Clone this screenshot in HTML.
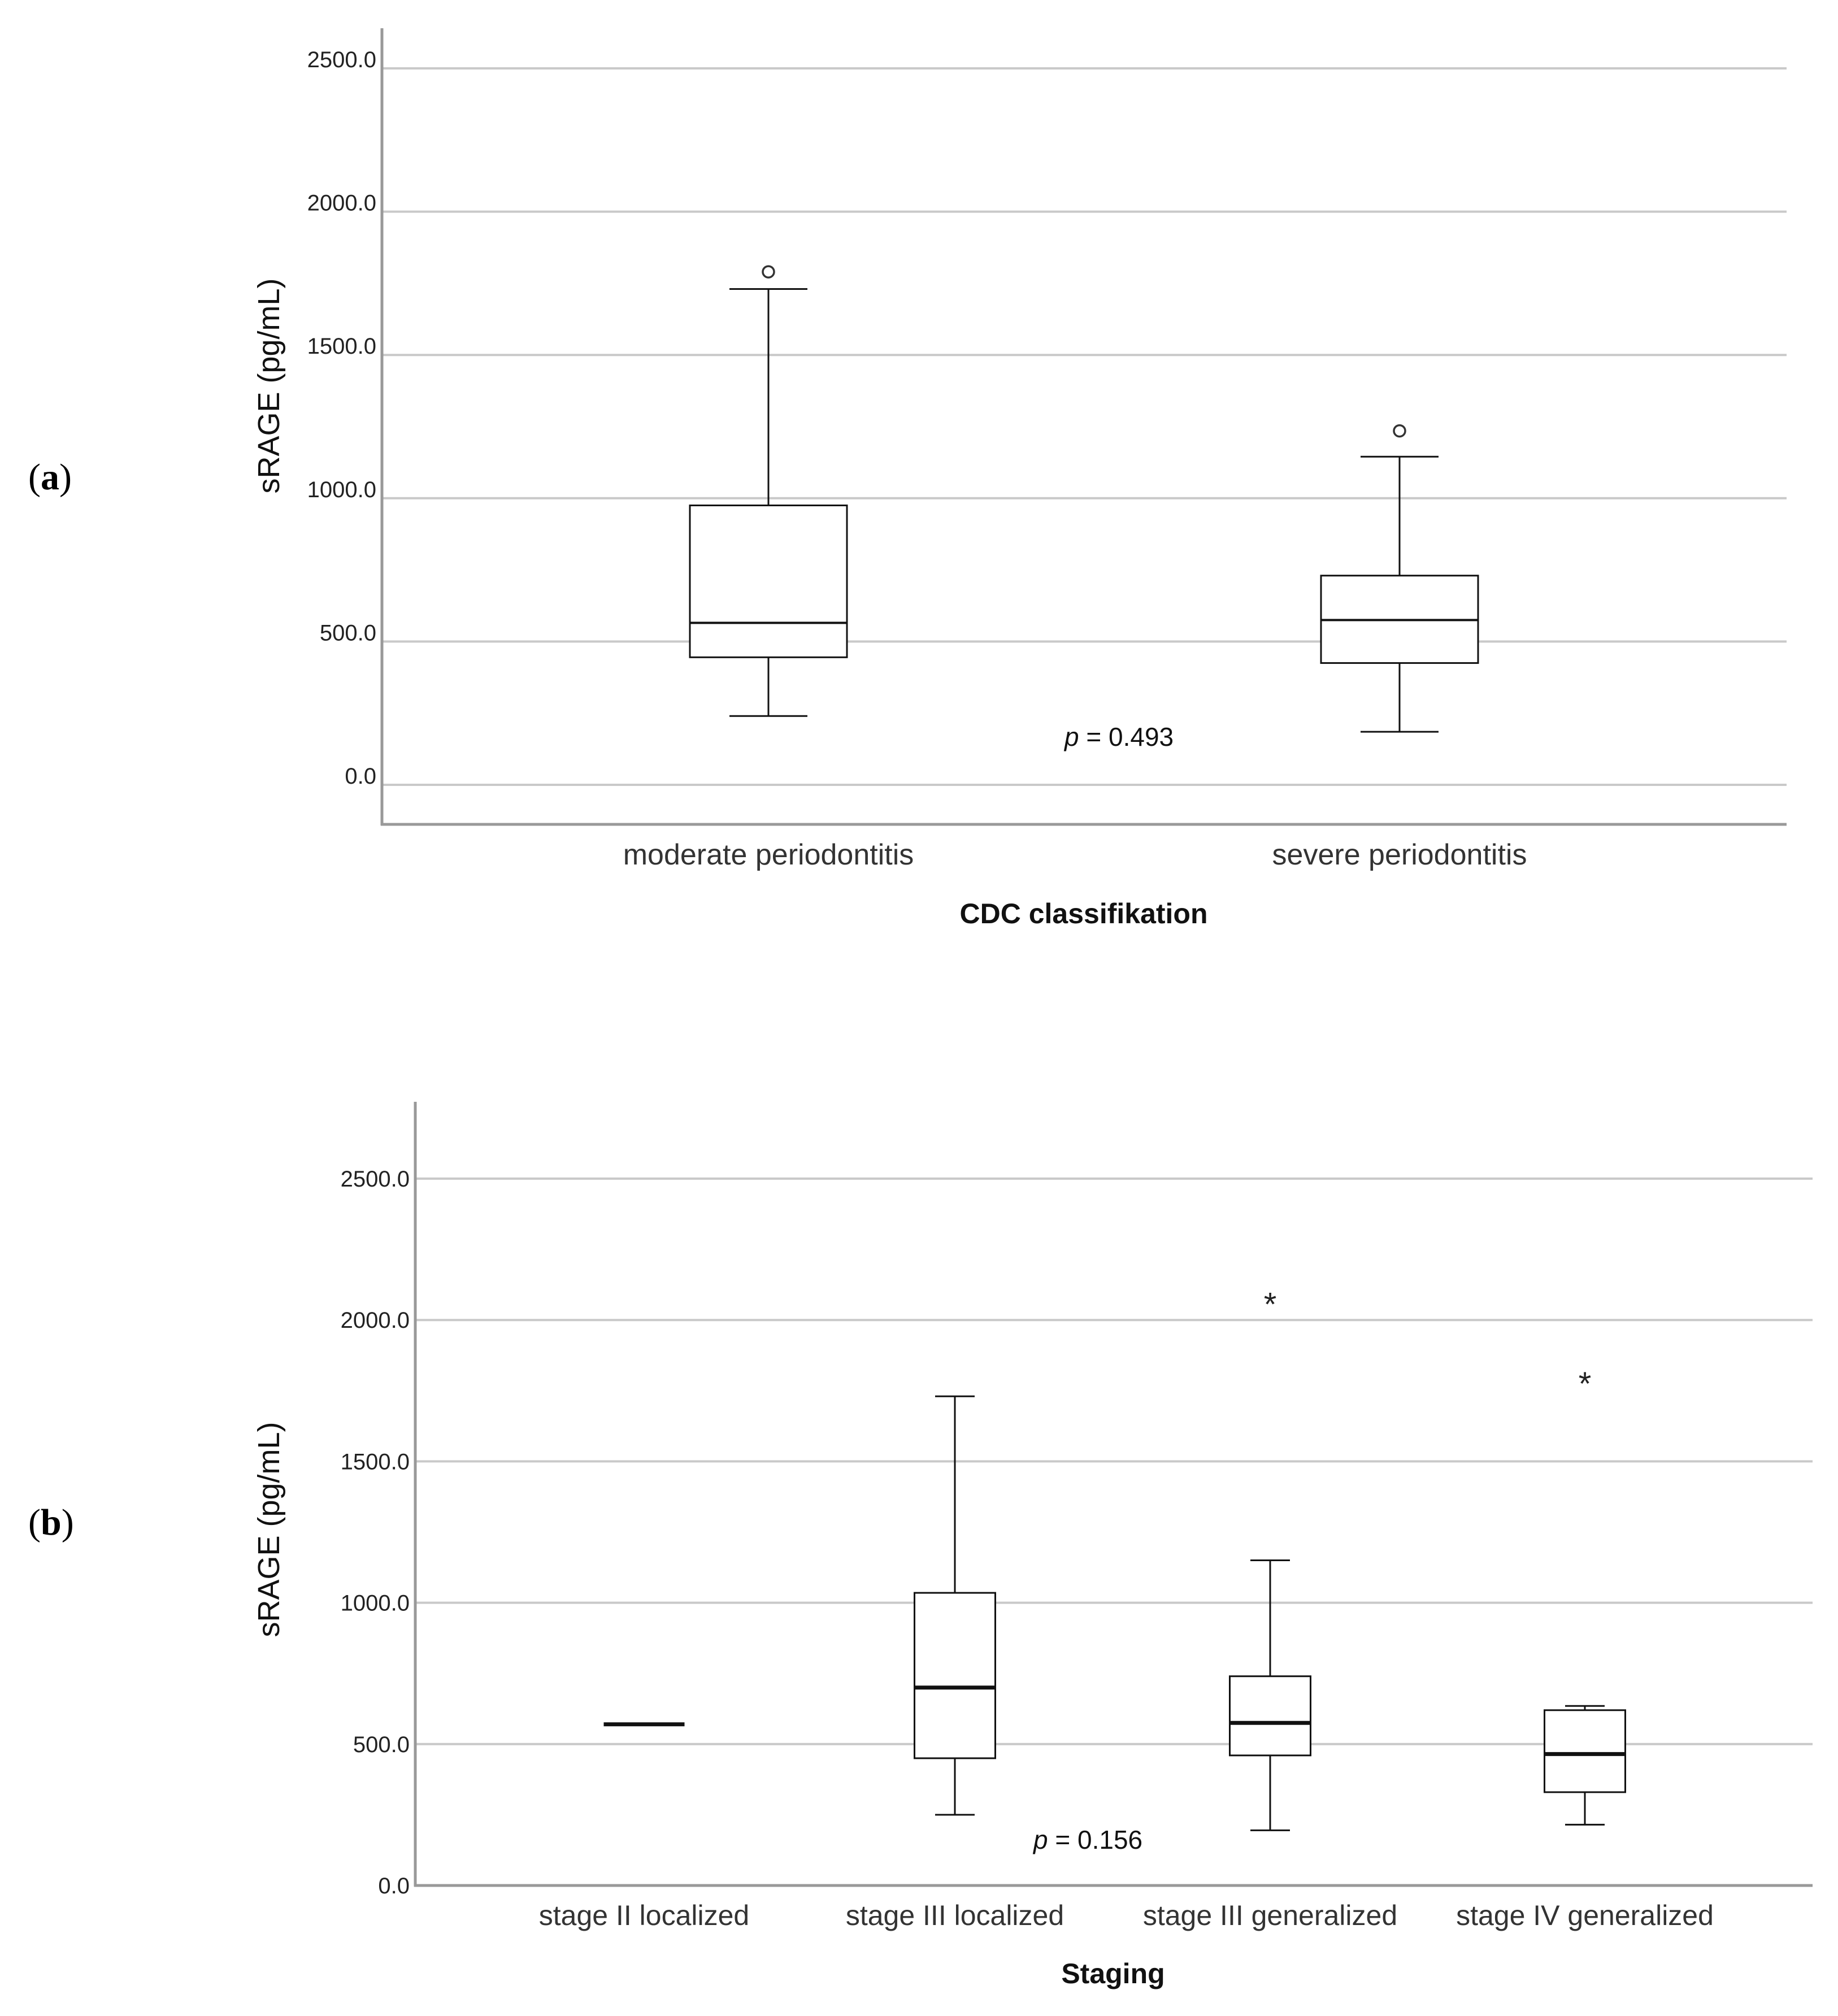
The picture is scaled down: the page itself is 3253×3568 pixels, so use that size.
<!DOCTYPE html>
<html><head><meta charset="utf-8"><style>
html,body{margin:0;padding:0;background:#fff;}
svg{display:block;font-family:"Liberation Sans",sans-serif;}
</style></head><body>
<svg id="fig" width="3253" height="3568" viewBox="0 0 3253 3568" xmlns="http://www.w3.org/2000/svg">
<text x="50" y="866" font-family="Liberation Serif, serif" font-size="66">(<tspan font-weight="bold">a</tspan>)</text>
<text x="50" y="2716" font-family="Liberation Serif, serif" font-size="66">(<tspan font-weight="bold">b</tspan>)</text>
<g id="chartA"></g>
<g id="chartB"></g>
</svg>
<script>
const ticks = [0, 500, 1000, 1500, 2000, 2500];
const tickLabels = ["0.0", "500.0", "1000.0", "1500.0", "2000.0", "2500.0"];
const catsA = ["moderate periodontitis", "severe periodontitis"];
const q1A = [445, 425];
const medA = [565, 575];
const q3A = [975, 730];
const loA = [240, 185];
const hiA = [1730, 1145];
const outA = [1790, 1235];
const catsB = ["stage II localized", "stage III  localized", "stage III generalized", "stage IV generalized"];
const q1B = [570, 450, 460, 330];
const medB = [570, 700, 575, 465];
const q3B = [570, 1035, 740, 620];
const loB = [570, 250, 195, 215];
const hiB = [570, 1730, 1150, 635];
const extB = [null, null, 2075, 1795];

const NS = "http://www.w3.org/2000/svg";
function mk(parent, tag, attrs, text) {
  const e = document.createElementNS(NS, tag);
  for (const k in attrs) e.setAttribute(k, attrs[k]);
  if (text !== undefined) e.textContent = text;
  parent.appendChild(e);
  return e;
}

function drawChart(g, cfg) {
  const y = v => cfg.y0 - (v / 500) * cfg.step;
  const x = i => cfg.xs[i];
  ticks.forEach((t, i) => {
    const l = mk(g, "line", {x1: cfg.ax, x2: cfg.right, y1: y(t), y2: y(t), stroke: "#c9c9c9", "stroke-width": 4});
    
    
    const tl = mk(g, "text", {x: cfg.ax - 10, y: y(t) + cfg.tickDy, "text-anchor": "end", "font-size": 40, fill: "#222"}, tickLabels[i]);
    
    
  });
  const ya = mk(g, "line", {x1: cfg.ax, x2: cfg.ax, y1: cfg.top, y2: cfg.bottom + 2, stroke: "#999", "stroke-width": 5});
  
  
  const xa = mk(g, "line", {x1: cfg.ax - 2, x2: cfg.right, y1: cfg.bottom, y2: cfg.bottom, stroke: "#999", "stroke-width": 5});
  
  
  cfg.cats.forEach((c, i) => {
    const cx = x(i), hw = cfg.bw / 2, cap = cfg.cap / 2;
    const bg = mk(g, "g", {});
    
    
    const st = {stroke: "#111", "stroke-width": 3, fill: "none"};
    if (cfg.q3[i] > cfg.q1[i]) {
      mk(bg, "line", Object.assign({x1: cx, x2: cx, y1: y(cfg.hi[i]), y2: y(cfg.q3[i])}, st));
      mk(bg, "line", Object.assign({x1: cx, x2: cx, y1: y(cfg.q1[i]), y2: y(cfg.lo[i])}, st));
      mk(bg, "line", Object.assign({x1: cx - cap, x2: cx + cap, y1: y(cfg.hi[i]), y2: y(cfg.hi[i])}, st));
      mk(bg, "line", Object.assign({x1: cx - cap, x2: cx + cap, y1: y(cfg.lo[i]), y2: y(cfg.lo[i])}, st));
      mk(bg, "rect", Object.assign({x: cx - hw, y: y(cfg.q3[i]), width: cfg.bw, height: y(cfg.q1[i]) - y(cfg.q3[i])}, st, {fill: "#fff"}));
    }
    mk(bg, "line", {x1: cx - hw, x2: cx + hw, y1: y(cfg.med[i]), y2: y(cfg.med[i]), stroke: "#111", "stroke-width": cfg.medW});
    const o = cfg.out[i];
    if (o != null) {
      if (cfg.star) {
        const s = mk(g, "text", {x: cx, y: y(o) + 30, "text-anchor": "middle", "font-size": 58, fill: "#222"}, "*");
        
        
      } else {
        const s = mk(g, "circle", {cx: cx, cy: y(o), r: 10, fill: "none", stroke: "#333", "stroke-width": 3.5});
        
        
      }
    }
    const lb = mk(g, "text", {x: cx, y: cfg.catY, "text-anchor": "middle", "font-size": cfg.catFs, fill: "#333"}, c);
    
    
  });
  const xt = mk(g, "text", {x: cfg.titleX, y: cfg.titleY, "text-anchor": "middle", "font-size": 50, "font-weight": "bold", fill: "#111"}, cfg.title);
  
  
  const yt = mk(g, "text", {x: 0, y: 0, "text-anchor": "middle", "font-size": 54, fill: "#111", transform: `translate(${cfg.ytX},${cfg.ytY}) rotate(-90)`}, "sRAGE (pg/mL)");
  
  
  const p = mk(g, "text", {x: cfg.pX, y: cfg.pY, "font-size": 46, fill: "#111"});
  
  
  mk(p, "tspan", {"font-style": "italic"}, "p");
  mk(p, "tspan", {}, " = " + cfg.p);
}

drawChart(document.getElementById("chartA"), {
  ax: 676, right: 3162, top: 50, bottom: 1459, y0: 1389, step: 253.6, tickDy: -2,
  xs: [1360, 2477], bw: 278, cap: 138, medW: 4, cats: catsA, catFs: 52,
  q1: q1A, med: medA, q3: q3A, lo: loA, hi: hiA, out: outA, star: false,
  catY: 1530, title: "CDC classifikation", titleX: 1918, titleY: 1634,
  ytX: 494, ytY: 683, pX: 1884, pY: 1320, p: "0.493"
});
drawChart(document.getElementById("chartB"), {
  ax: 735, right: 3208, top: 1950, bottom: 3337, y0: 3337, step: 250.2, tickDy: 14,
  xs: [1140, 1690, 2248, 2805], bw: 143, cap: 70, medW: 7, cats: catsB, catFs: 50,
  q1: q1B, med: medB, q3: q3B, lo: loB, hi: hiB, out: extB, star: true,
  catY: 3407, title: "Staging", titleX: 1970, titleY: 3510,
  ytX: 494, ytY: 2707, pX: 1829, pY: 3272, p: "0.156"
});
</script>
</body></html>
